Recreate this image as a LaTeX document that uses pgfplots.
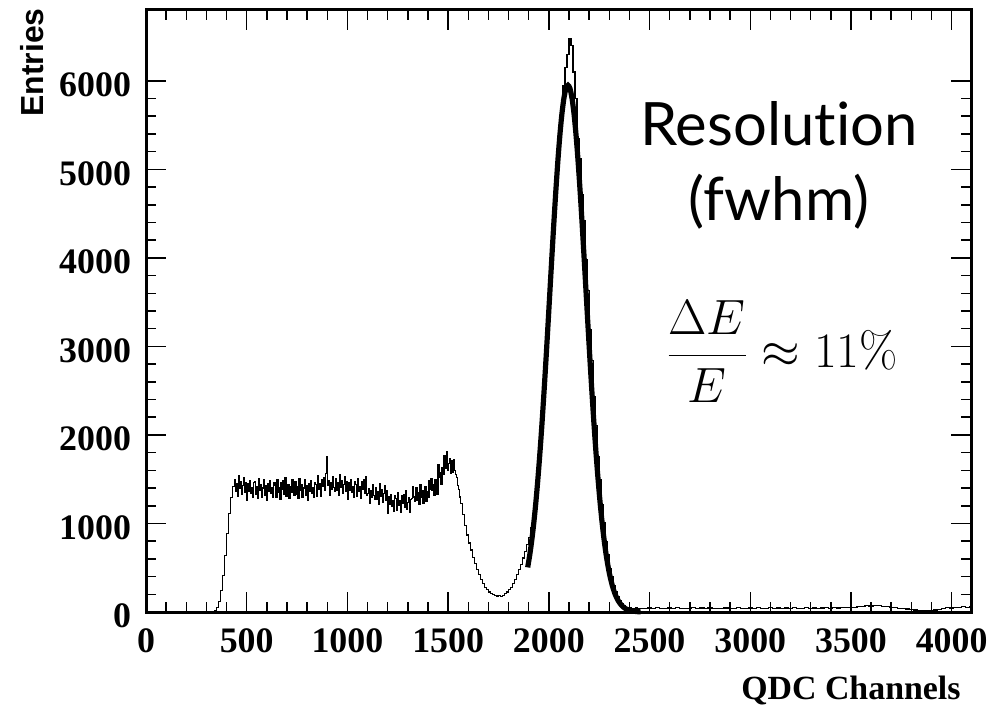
\documentclass[border=0pt]{standalone}
\usepackage[no-math]{fontspec}
\setmainfont{Liberation Serif}
\newfontfamily\helv{Liberation Sans}
\newfontfamily\lato[Ligatures={NoCommon,NoContextual}]{Lato}
\usepackage{pgfplots}
\pgfplotsset{compat=1.18}

\pgfplotstableread{
x y
0 0
320 0
330 2
340 15
350 55
360 120
370 240
380 410
390 640
400 890
410 1110
420 1290
430 1420
440 1500
445 1360
450 1450
455 1310
460 1540
465 1400
470 1470
475 1330
480 1430
485 1520
490 1350
495 1460
500 1260
505 1450
510 1360
515 1480
520 1340
525 1410
530 1290
535 1460
540 1470
545 1330
550 1420
555 1280
560 1510
565 1370
570 1440
575 1300
580 1400
585 1490
590 1320
595 1430
600 1260
605 1450
610 1360
615 1480
620 1340
625 1410
630 1290
635 1460
640 1430
645 1300
650 1500
655 1350
660 1410
665 1270
670 1460
675 1380
680 1480
685 1330
690 1520
695 1310
700 1390
705 1440
710 1280
715 1420
720 1350
725 1490
730 1370
735 1320
740 1470
745 1330
750 1420
755 1280
760 1510
765 1370
770 1440
775 1300
780 1400
785 1490
790 1320
795 1430
800 1260
805 1450
810 1360
815 1480
820 1340
825 1410
830 1290
835 1460
840 1440
845 1310
850 1540
855 1390
860 1450
865 1310
870 1500
875 1420
880 1520
885 1370
890 1560
895 1750
900 1430
905 1480
910 1320
915 1460
920 1390
925 1530
930 1410
935 1360
940 1510
945 1370
950 1460
955 1320
960 1550
965 1410
970 1480
975 1340
980 1440
985 1530
990 1360
995 1470
1000 1270
1005 1460
1010 1370
1015 1490
1020 1350
1025 1420
1030 1300
1035 1470
1040 1440
1045 1310
1050 1510
1055 1360
1060 1420
1065 1280
1070 1470
1075 1390
1080 1490
1085 1340
1090 1530
1095 1320
1100 1340
1105 1390
1110 1230
1115 1370
1120 1300
1125 1440
1130 1320
1135 1270
1140 1410
1145 1270
1150 1360
1155 1220
1160 1450
1165 1310
1170 1380
1175 1240
1180 1340
1185 1430
1190 1260
1195 1370
1200 1110
1205 1300
1210 1210
1215 1330
1220 1190
1225 1260
1230 1140
1235 1310
1240 1280
1245 1150
1250 1350
1255 1200
1260 1260
1265 1120
1270 1310
1275 1230
1280 1330
1285 1180
1290 1370
1295 1160
1300 1240
1305 1290
1310 1130
1315 1270
1320 1280
1325 1420
1330 1300
1335 1250
1340 1400
1345 1260
1350 1350
1355 1210
1360 1440
1365 1300
1370 1370
1375 1230
1380 1330
1385 1420
1390 1250
1395 1360
1400 1290
1405 1480
1410 1390
1415 1510
1420 1370
1425 1440
1430 1320
1435 1490
1440 1460
1445 1330
1450 1670
1455 1520
1460 1580
1465 1440
1470 1630
1475 1550
1480 1770
1485 1620
1490 1810
1495 1600
1500 1680
1505 1730
1510 1570
1515 1710
1520 1580
1525 1720
1530 1600
1535 1550
1540 1520
1545 1430
1550 1380
1555 1300
1560 1230
1570 1100
1580 980
1590 870
1600 780
1610 700
1620 620
1630 550
1640 480
1650 420
1660 370
1670 320
1680 280
1690 250
1700 225
1710 210
1720 195
1730 185
1740 180
1750 185
1760 175
1770 190
1780 205
1790 225
1800 250
1810 280
1820 320
1830 370
1840 420
1850 480
1860 540
1870 610
1880 680
1890 760
1900 840
1910 950
1920 1090
1930 1260
1940 1490
1950 1790
1960 2080
1970 2460
1980 2800
1990 3230
2000 3580
2010 4030
2020 4380
2030 4800
2040 5060
2050 5420
2060 5600
2070 5950
2080 6150
2090 6300
2100 6480
2110 6400
2120 6100
2130 5800
2140 5350
2150 5120
2160 4720
2170 4420
2180 3980
2190 3630
2200 3190
2210 2840
2220 2430
2230 2110
2240 1760
2250 1500
2260 1210
2270 1010
2280 790
2290 650
2300 495
2310 395
2320 300
2330 230
2340 172
2350 128
2360 95
2370 70
2380 55
2390 50
2400 46
2410 44
2420 42
2430 45
2440 40
2450 43
2470 38
2490 46
2510 40
2530 48
2550 42
2570 36
2590 45
2610 40
2630 50
2650 38
2670 44
2690 41
2710 47
2730 39
2750 45
2770 42
2790 48
2810 40
2830 44
2850 38
2870 46
2890 42
2910 40
2930 47
2950 43
2970 39
2990 45
3010 41
3030 48
3050 40
3070 44
3090 50
3110 42
3130 46
3150 39
3170 45
3190 43
3210 47
3230 41
3250 44
3270 48
3290 42
3310 46
3330 40
3350 45
3370 49
3390 43
3410 47
3430 45
3450 50
3470 48
3490 55
3510 52
3530 60
3550 66
3570 72
3590 68
3610 75
3630 70
3650 62
3670 58
3690 52
3710 48
3730 44
3750 40
3770 35
3790 28
3810 22
3830 18
3850 15
3870 20
3890 16
3910 22
3930 30
3950 42
3970 50
3990 46
4010 55
4030 50
4050 58
4070 52
4090 60
4096 60
}\histdata

\pgfplotstableread{
x y
1895 504
1905 641
1915 805
1925 999
1935 1225
1945 1484
1955 1775
1965 2096
1975 2446
1985 2819
1995 3209
2005 3609
2015 4008
2025 4397
2035 4764
2045 5099
2055 5390
2065 5628
2075 5805
2085 5913
2095 5950
2105 5913
2115 5805
2125 5628
2135 5390
2145 5099
2155 4764
2165 4397
2175 4008
2185 3609
2195 3209
2205 2819
2215 2446
2225 2096
2235 1775
2245 1484
2255 1225
2265 999
2275 805
2285 641
2295 504
2305 391
2315 300
2325 227
2335 170
2345 126
2355 92
2365 66
2375 47
2385 33
2395 23
2415 11
2435 5
2455 1
}\fitdata

\begin{document}
\begin{tikzpicture}
\begin{axis}[
  at={(0,0)}, anchor=south west,
  scale only axis,
  width=412.5bp, height=301bp,
  xmin=0, xmax=4096, ymin=0, ymax=6800,
  xtick={0,500,...,4000}, minor x tick num=4,
  ytick={0,1000,...,6000}, minor y tick num=4,
  tick align=inside,
  major tick length=10bp, minor tick length=5bp,
  axis line style={line width=1.5bp},
  every tick/.style={black, line width=0.75bp},
  /pgf/number format/assume math mode=true,
  /pgf/number format/1000 sep={},
  scaled ticks=false,
  ticklabel style={font=\fontsize{18}{18}\selectfont\bfseries},
  xticklabel style={yshift=-5bp},
  yticklabel style={xshift=-4bp, yshift=-2bp},
  clip=false,
]
\addplot[const plot, black, line width=0.6bp] table[x=x,y=y] {\histdata};
\addplot[smooth, black, line width=2.6bp] table[x=x,y=y] {\fitdata};
\end{axis}
% labels
\node[rotate=90, anchor=east, inner sep=0pt, font=\helv\fontsize{16}{16}\selectfont\bfseries] at (-57bp,302bp) {Entries};
\node[anchor=east, inner sep=0pt, font=\fontsize{17}{17}\selectfont\bfseries] at (407.5bp,-39bp) {QDC Channels};
\node[anchor=base, inner sep=0pt, font=\lato\fontsize{30}{30}\selectfont] at (316.5bp,233bp) {Resolution};
\node[anchor=base, inner sep=0pt, font=\lato\fontsize{30}{30}\selectfont] at (316.5bp,195.5bp) {(fwhm)};
\node[anchor=base, inner sep=0pt, font=\fontsize{33}{33}\selectfont] at (318bp,122bp) {$\displaystyle\frac{\Delta E}{E}\approx 11\%$};
\pgfresetboundingbox
\path[use as bounding box] (-73bp,-48.5bp) rectangle (427.5bp,306bp);
\end{tikzpicture}
\end{document}
